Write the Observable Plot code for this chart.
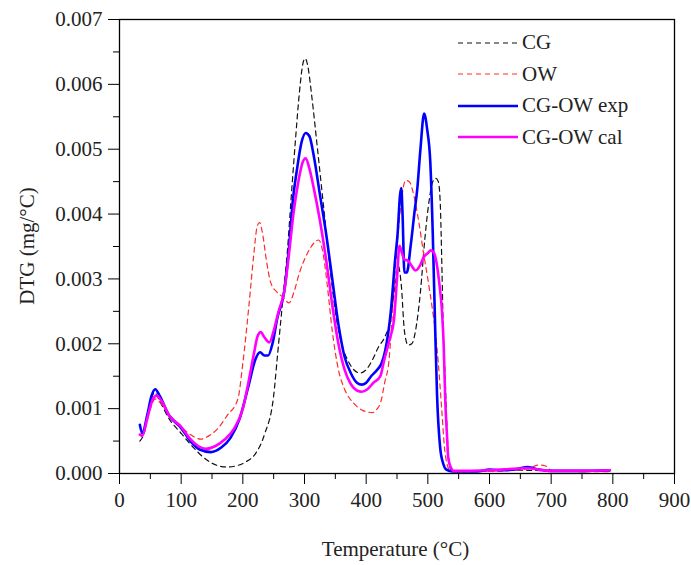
<!DOCTYPE html>
<html><head><meta charset="utf-8">
<script src="https://cdn.jsdelivr.net/npm/d3@7"></script>
<script src="https://cdn.jsdelivr.net/npm/@observablehq/plot@0.6"></script>
<style>
body{margin:0;background:#fff;}
#wrap{position:relative;width:691px;height:565px;font-family:"Liberation Serif","Times New Roman",serif;color:#222;}
#legend{position:absolute;left:458px;top:27px;}
.row{display:flex;align-items:center;height:31.5px;font-size:21px;}
.row svg{width:62px;height:10px;margin-right:2px;}
.xlab{position:absolute;left:0;width:691px;top:537px;text-align:center;padding-left:100px;box-sizing:border-box;font-size:21px;}
.ylab{position:absolute;left:27px;top:246px;transform:translate(-50%,-50%) rotate(-90deg);white-space:nowrap;font-size:21px;}
</style></head><body><div id="wrap"></div>
<script>
// ---- data ----
const cgT=[33,40,50,57,65,80,100,120,140,160,175,190,205,220,235,250,256,265,272,278,285,292,297,301,305,312,320,330,340,350,360,370,380,390,400,410,420,430,440,447,452,457,462,468,474,480,488,495,502,508,513,517,520,523,525,528,531,534,538,545,600,650,700,750,795];
const cgV=[0.00050,0.00062,0.00110,0.00125,0.00112,0.00085,0.00062,0.00040,0.00022,0.00012,0.00010,0.00012,0.00018,0.00030,0.00060,0.00120,0.00180,0.00270,0.00340,0.00420,0.00510,0.00590,0.00630,0.00640,0.00630,0.00580,0.00510,0.00420,0.00330,0.00250,0.00200,0.00175,0.00160,0.00155,0.00160,0.00175,0.00195,0.00210,0.00240,0.00290,0.00320,0.00290,0.00220,0.00198,0.00200,0.00220,0.00280,0.00360,0.00420,0.00450,0.00455,0.00450,0.00420,0.00310,0.00220,0.00150,0.00070,0.00020,0.00005,0.00003,0.00004,0.00005,0.00004,0.00003,0.00004];

const owT=[33,40,50,58,65,80,100,115,132,145,160,175,192,200,210,218,223,227,232,238,245,255,265,275,283,292,305,315,323,330,337,345,355,365,380,395,410,418,423,430,437,444,450,457,464,470,477,485,493,500,507,512,517,523,527,531,536,560,620,660,680,690,700,750,795];
const owV=[0.00060,0.00065,0.00100,0.00115,0.00110,0.00092,0.00072,0.00060,0.00053,0.00058,0.00070,0.00090,0.00115,0.00170,0.00260,0.00340,0.00380,0.00387,0.00370,0.00330,0.00295,0.00280,0.00272,0.00263,0.00280,0.00310,0.00340,0.00355,0.00360,0.00340,0.00290,0.00220,0.00160,0.00130,0.00108,0.00097,0.00094,0.00100,0.00108,0.00140,0.00174,0.00270,0.00350,0.00420,0.00452,0.00450,0.00430,0.00390,0.00340,0.00300,0.00256,0.00220,0.00170,0.00092,0.00040,0.00015,0.00005,0.00003,0.00004,0.00007,0.00013,0.00012,0.00005,0.00003,0.00003];

const expT=[33,37,45,52,58,65,80,100,115,130,148,165,180,195,210,220,228,235,241,248,256,267,275,281,288,295,302,308,315,325,335,345,355,365,375,385,393,400,408,418,425,431,440,447,451,455,457,459,462,466,472,478,483,488,494,499,504,508,512,515,520,525,530,540,580,600,620,645,662,675,700,750,795];
const expV=[0.00075,0.00062,0.00090,0.00120,0.00130,0.00120,0.00090,0.00070,0.00050,0.00037,0.00033,0.00040,0.00055,0.00085,0.00138,0.00175,0.00187,0.00182,0.00182,0.00200,0.00240,0.00280,0.00350,0.00420,0.00470,0.00510,0.00525,0.00520,0.00490,0.00430,0.00370,0.00300,0.00230,0.00180,0.00155,0.00140,0.00137,0.00140,0.00150,0.00160,0.00170,0.00190,0.00250,0.00330,0.00370,0.00430,0.00440,0.00400,0.00310,0.00310,0.00350,0.00400,0.00440,0.00500,0.00555,0.00530,0.00480,0.00370,0.00220,0.00120,0.00040,0.00015,0.00006,0.00003,0.00003,0.00006,0.00005,0.00007,0.00010,0.00007,0.00004,0.00004,0.00005];

const calT=[33,37,45,53,60,68,81,100,115,128,140,155,170,185,200,210,218,224,229,235,243,250,258,267,275,282,290,297,302,308,315,325,335,345,355,365,375,385,393,402,412,423,429,439,445,450,454,458,462,468,474,480,487,493,500,505,510,515,519,523,526,528,531,533,537,542,600,660,700,750,795];
const calV=[0.00060,0.00058,0.00085,0.00112,0.00120,0.00112,0.00089,0.00072,0.00053,0.00042,0.00038,0.00042,0.00052,0.00068,0.00100,0.00145,0.00185,0.00212,0.00218,0.00210,0.00202,0.00220,0.00250,0.00280,0.00340,0.00400,0.00450,0.00480,0.00486,0.00470,0.00440,0.00390,0.00330,0.00260,0.00200,0.00160,0.00138,0.00128,0.00126,0.00130,0.00140,0.00150,0.00174,0.00210,0.00236,0.00300,0.00351,0.00340,0.00330,0.00328,0.00320,0.00313,0.00320,0.00333,0.00340,0.00344,0.00340,0.00320,0.00290,0.00250,0.00190,0.00120,0.00060,0.00025,0.00010,0.00004,0.00005,0.00008,0.00004,0.00004,0.00005];

const seriesNames=["CG","OW","CG-OW exp","CG-OW cal"];
const xTicks=[0,100,200,300,400,500,600,700,800,900];
const xMinor=[50,150,250,350,450,550,650,750,850];
const yTicks=[0,0.001,0.002,0.003,0.004,0.005,0.006,0.007];
const yMinor=[0.0005,0.0015,0.0025,0.0035,0.0045,0.0055,0.0065];

const styles=[
  {stroke:"#111",strokeWidth:1.2,strokeDasharray:"5,4"},
  {stroke:"#ff2a2a",strokeWidth:1.2,strokeDasharray:"5,4"},
  {stroke:"#0000ff",strokeWidth:2.6},
  {stroke:"#ff00ff",strokeWidth:2.6}
];
const sets=[[cgT,cgV],[owT,owV],[expT,expV],[calT,calV]];
const data=sets.map(([T,V])=>T.map((t,i)=>({T:t,V:V[i]})));

const chart=Plot.plot({
  width:691,height:565,
  marginLeft:119,marginRight:17,marginTop:19,marginBottom:92,
  style:{fontFamily:'"Liberation Serif","Times New Roman",serif',fontSize:"21px",color:"#222",background:"#fff"},
  x:{domain:[0,900],label:null},
  y:{domain:[0,0.007],label:null},
  marks:[
    ...data.map((d,i)=>Plot.line(d,{x:"T",y:"V",curve:"monotone-x",...styles[i]})),
    Plot.frame({stroke:"#000",strokeWidth:1.3}),
    Plot.axisX({ticks:xTicks,tickSize:11,tickPadding:8,tickFormat:d=>String(d),fontSize:21,fill:"#222",stroke:"#000"}),
    Plot.axisX({ticks:xMinor,tickSize:6,tickFormat:()=>"",stroke:"#000"}),
    Plot.axisY({ticks:yTicks,tickSize:11,tickPadding:6,tickFormat:d3.format(".3f"),fontSize:21,fill:"#222",stroke:"#000"}),
    Plot.axisY({ticks:yMinor,tickSize:6,tickFormat:()=>"",stroke:"#000"})
  ]
});
const wrap=document.getElementById("wrap");
wrap.appendChild(chart);

const xl=document.createElement("div");xl.className="xlab";xl.textContent="Temperature (°C)";wrap.appendChild(xl);
const yl=document.createElement("div");yl.className="ylab";yl.textContent="DTG (mg/°C)";wrap.appendChild(yl);

const leg=document.createElement("div");leg.id="legend";
seriesNames.forEach((n,i)=>{
  const s=styles[i];
  const r=document.createElement("div");r.className="row";
  r.innerHTML=`<svg viewBox="0 0 62 10"><line x1="0" x2="60" y1="5" y2="5" stroke="${s.stroke}" stroke-width="${s.strokeWidth}" ${s.strokeDasharray?`stroke-dasharray="${s.strokeDasharray}"`:""}/></svg><span>${n}</span>`;
  leg.appendChild(r);
});
wrap.appendChild(leg);
</script></body></html>
